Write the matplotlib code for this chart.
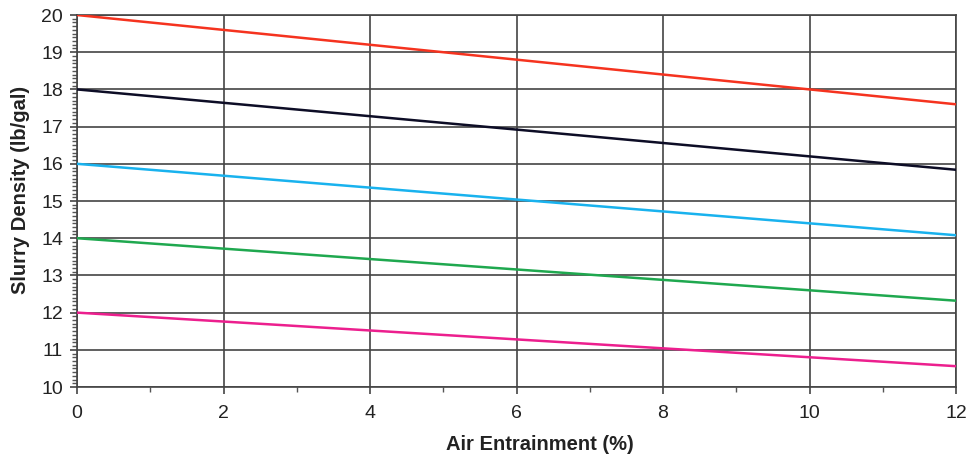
import matplotlib
matplotlib.use("Agg")
import matplotlib.pyplot as plt
from matplotlib.ticker import MultipleLocator

plt.rcParams['font.family'] = ['Liberation Sans', 'DejaVu Sans']

# air entrainment (%) and slurry density (lb/gal)
air = [0, 2, 4, 6, 8, 10, 12]
dens_20 = [20.0, 19.6, 19.2, 18.8, 18.4, 18.0, 17.6]
dens_18 = [18.0, 17.64, 17.28, 16.92, 16.56, 16.2, 15.84]
dens_16 = [16.0, 15.68, 15.36, 15.04, 14.72, 14.4, 14.08]
dens_14 = [14.0, 13.72, 13.44, 13.16, 12.88, 12.6, 12.32]
dens_12 = [12.0, 11.76, 11.52, 11.28, 11.04, 10.8, 10.56]

series = [
    (dens_20, '#f5331f'),
    (dens_18, '#0d0d26'),
    (dens_16, '#19b2ee'),
    (dens_14, '#1fa84f'),
    (dens_12, '#ec1f8e'),
]

fig = plt.figure(figsize=(9.71, 4.62), dpi=100)
ax = fig.add_axes([0.0793, 0.1623, 0.9053, 0.8052])

for y, c in series:
    ax.plot(air, y, color=c, lw=1.8, zorder=3)

ax.set_xlim(0, 12)
ax.set_ylim(10, 20)
ax.xaxis.set_major_locator(MultipleLocator(2))
ax.xaxis.set_minor_locator(MultipleLocator(1))
ax.yaxis.set_major_locator(MultipleLocator(1))
ax.yaxis.set_minor_locator(MultipleLocator(0.1))

ax.grid(True, which='major', color='#444444', lw=1.2)
ax.tick_params(which='major', direction='out', length=5, width=1.2,
               color='#444444', labelsize=14, labelcolor='#222222', pad=5)
ax.tick_params(axis='x', which='major', pad=8)
ax.tick_params(which='minor', direction='out', length=3.5, width=1.0, color='#555555')
for s in ax.spines.values():
    s.set_color('#444444')
    s.set_linewidth(1.2)

ax.set_xlabel('Air Entrainment (%)', fontsize=14.5, fontweight='bold', color='#222222')
ax.set_ylabel('Slurry Density (lb/gal)', fontsize=14.5, fontweight='bold', color='#222222')
ax.xaxis.set_label_coords(0.527, -0.13)
ax.yaxis.set_label_coords(-0.053, 0.53)

fig.savefig('out.png', dpi=100)
